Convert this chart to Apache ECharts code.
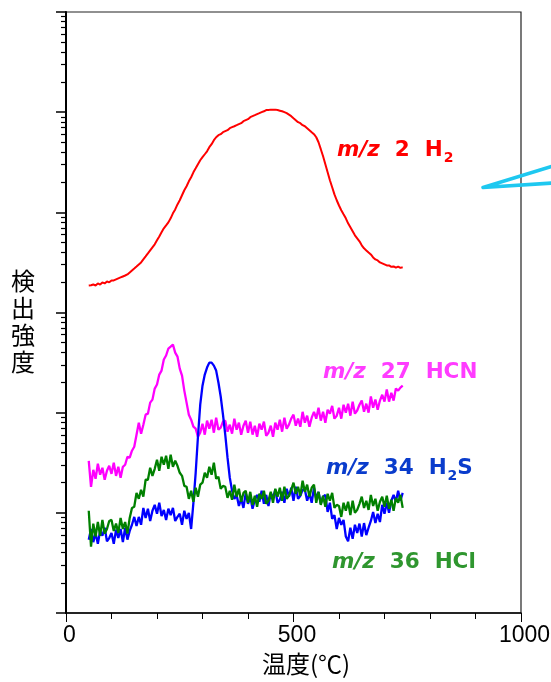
<!DOCTYPE html>
<html>
<head>
<meta charset="utf-8">
<script src="https://cdn.jsdelivr.net/npm/echarts@6/dist/echarts.min.js"></script>
<style>
html,body{margin:0;padding:0;background:#fff;}
#chart{width:551px;height:682px;}
</style>
</head>
<body>
<div id="chart"></div>
<script>
// Temperature (°C)
var temps = [
 50,55,60,65,70,75,80,85,90,95,
 100,105,110,115,120,125,130,135,140,145,
 150,155,160,165,170,175,180,185,190,195,
 200,205,210,215,220,225,230,235,240,245,
 250,255,260,265,270,275,280,285,290,295,
 300,305,310,315,320,325,330,335,340,345,
 350,355,360,365,370,375,380,385,390,395,
 400,405,410,415,420,425,430,435,440,445,
 450,455,460,465,470,475,480,485,490,495,
 500,505,510,515,520,525,530,535,540,545,
 550,555,560,565,570,575,580,585,590,595,
 600,605,610,615,620,625,630,635,640,645,
 650,655,660,665,670,675,680,685,690,695,
 700,705,710,715,720,725,730,735,740
];
// m/z 2 H2
var h2 = [
 1860,1870,1905,1860,1950,1900,1995,1950,2040,2000,
 2090,2090,2140,2190,2240,2290,2340,2400,2510,2630,
 2750,2880,3020,3160,3390,3630,3890,4170,4470,4790,
 5250,5750,6310,6920,7410,7940,8710,9770,10700,12000,
 13200,14800,16600,18200,20400,22400,25100,27500,30200,33100,
 35500,38000,40700,44700,47900,52500,56200,58900,60300,63100,
 64600,66100,69200,70800,72400,74100,75900,77600,81300,83200,
 85100,89100,91200,93300,95500,97700,100000,102000,105000,105000,
 106000,106000,106000,105000,103500,102000,100000,97700,94400,91200,
 87100,83200,79400,77600,74100,72400,69200,66100,63100,60300,
 56200,50100,42700,36300,30200,25100,20900,17800,15100,13200,
 11700,10500,9550,8710,7760,7080,6460,5890,5500,5130,
 4680,4370,4170,3980,3800,3550,3390,3310,3160,3090,
 3020,2950,2950,2860,2880,2800,2870,2790,2830
];
// m/z 27 HCN
var hcn = [
 33,18.2,26.9,21.9,30.9,24.0,28.2,21.4,26.3,29.5,
 24.5,31.6,23.4,28.8,22.4,28.8,30.2,36.3,35.5,41.7,
 45.7,60.3,79.4,61.7,75.9,95.5,97.7,126,135,174,
 191,240,263,339,372,437,457,479,398,363,
 275,234,166,126,95.5,85.1,72.4,69.2,57.5,63.1,
 77.6,60.3,83.2,69.2,85.1,63.1,89.1,67.6,70.8,81.3,
 83.2,64.6,75.9,61.7,87.1,67.6,79.4,60.3,74.1,83.2,
 63.1,81.3,60.3,74.1,57.5,77.6,67.6,81.3,58.9,63.1,
 74.1,57.5,79.4,67.6,85.1,64.6,89.1,69.2,75.9,87.1,
 95.5,74.1,87.1,72.4,102,79.4,93.3,72.4,89.1,102,
 87.1,112,83.2,102,79.4,107,97.7,117,87.1,93.3,
 112,87.1,120,100,123,93.3,129,97.7,105,120,
 132,102,123,100,145,112,135,107,132,151,
 129,170,129,158,132,174,166,178,186
];
// m/z 34 H2S
var h2s = [
 5.4,6.9,5.1,6.3,4.9,6.6,5.9,7.1,5.2,5.6,
 6.3,4.9,6.8,5.6,6.9,5.1,7.1,5.4,6.6,7.6,
 9.1,7.4,9.1,7.6,11.2,8.9,11.0,8.3,10.5,12.0,
 9.8,12.6,9.3,10.7,8.5,11.0,9.5,11.2,8.3,9.1,
 9.8,7.6,10.5,8.7,10.0,6.9,12.6,25.1,57.5,120,
 186,240,282,316,316,295,263,200,145,95.5,
 60.3,35.5,22.4,16.6,13.8,15.1,11.7,13.8,11.2,15.8,
 12.3,14.5,11.0,13.5,15.1,12.9,16.6,12.3,15.1,11.7,
 15.8,14.1,17.0,12.6,13.5,16.2,12.6,17.4,14.5,17.8,
 13.2,18.2,13.8,14.8,17.0,17.0,13.2,15.5,12.6,17.8,
 13.8,16.2,12.3,14.5,15.1,10.2,12.6,8.7,9.5,6.9,
 8.9,7.6,8.5,5.8,5.2,7.1,5.5,7.6,6.3,7.8,
 5.8,7.9,6.0,7.1,8.3,10.2,7.9,9.8,8.1,12.0,
 9.8,12.6,10.0,13.2,15.1,12.9,16.6,13.2,15.8
];
// m/z 36 HCl
var hcl = [
 10.5,4.6,7.8,5.8,8.1,5.9,8.5,6.2,6.9,8.3,
 8.5,6.6,7.8,6.3,8.9,6.9,8.1,6.2,8.9,11.2,
 11.5,15.8,13.8,17.0,14.5,21.4,21.4,28.2,23.4,27.5,
 33.9,26.3,36.3,30.2,37.2,27.5,38.0,28.8,33.1,29.5,
 25.1,23.4,18.6,18.2,13.8,16.6,12.9,17.8,14.5,19.1,
 20.0,25.1,22.4,28.8,24.0,31.6,21.9,22.9,17.4,18.6,
 18.2,14.1,16.6,13.5,19.1,14.5,17.4,12.9,15.8,16.6,
 12.6,16.2,12.0,14.8,11.5,15.5,13.8,16.6,12.3,13.2,
 16.2,12.6,17.4,14.5,17.8,13.2,18.2,13.8,14.8,17.0,
 20.0,15.5,18.2,14.8,20.9,16.2,19.1,14.5,17.8,19.1,
 12.6,16.2,12.0,14.8,11.5,15.5,13.2,15.8,11.2,12.0,
 11.7,9.1,12.6,10.5,12.9,9.5,13.2,10.0,10.7,12.3,
 14.5,11.2,13.2,10.7,15.1,11.7,13.8,10.5,12.9,14.5,
 11.5,14.8,11.0,13.5,10.5,14.1,12.6,15.1,11.2
];
var xTickLabels = [0, 500, 1000];
var yMajorTicks = [1, 10, 100, 1000, 10000, 100000, 1000000];
var yMinorTicks = [];
[1, 10, 100, 1000, 10000, 100000].forEach(function (d) {
  for (var k = 2; k <= 9; k++) yMinorTicks.push(d * k);
});
var seriesNames = ['m/z 2 H2', 'm/z 27 HCN', 'm/z 34 H2S', 'm/z 36 HCl'];
var seriesColors = ['#ff0000', '#ff00ff', '#0000ff', '#008000'];
var labelColors = ['#ff0000', '#ff3cff', '#0a3ccc', '#2f962f'];
var xTitle = '温度(℃)';
var yTitle = '検\n出\n強\n度';

function pairs(vals) { return temps.map(function (t, i) { return [t, vals[i]]; }); }

var chart = echarts.init(document.getElementById('chart'), null, { renderer: 'canvas' });

var mainFont = '"DejaVu Sans", "Liberation Sans", sans-serif';
var rich = {
  i: { fontFamily: mainFont, fontSize: 21.5, fontWeight: 'bold', fontStyle: 'italic' },
  b: { fontFamily: mainFont, fontSize: 21.5, fontWeight: 'bold' },
  s: { fontFamily: mainFont, fontSize: 14, fontWeight: 'bold', padding: [16, 0, 0, 1] }
};
function label(x, y, text, color) {
  return {
    type: 'text', x: x, y: y, z: 100,
    style: {
      text: text, rich: rich, fill: color,
      fontFamily: mainFont, fontSize: 21.5, fontWeight: 'bold',
      verticalAlign: 'middle', align: 'left'
    }
  };
}

var option = {
  animation: false,
  backgroundColor: '#fff',
  grid: { left: 66, right: 30, top: 12, bottom: 69, show: true, borderColor: '#222', borderWidth: 1.2,
    containLabel: false, outerBoundsMode: 'none' },
  xAxis: {
    type: 'value', min: 0, max: 1000, interval: 500,
    axisLine: { onZero: false, lineStyle: { color: '#000', width: 1.5 } },
    axisTick: { show: true, length: 9, lineStyle: { color: '#000', width: 1 } },
    minorTick: { show: true, splitNumber: 5, length: 6, lineStyle: { color: '#000', width: 1 } },
    splitLine: { show: false }, minorSplitLine: { show: false },
    axisLabel: { fontSize: 23, color: '#000', margin: 11, padding: [0, 0, 0, 7], fontFamily: '"Liberation Sans", Arial, sans-serif',
      formatter: function (v) { return xTickLabels.indexOf(v) >= 0 ? String(v) : ''; } },
    name: xTitle, nameLocation: 'middle', nameGap: 33,
    nameTextStyle: { fontSize: 24, color: '#000', fontFamily: '"Noto Sans CJK JP", sans-serif', padding: [0, 0, 0, 25] }
  },
  yAxis: [
    {
      type: 'log', logBase: 10, min: 1, max: 1000000,
      axisLine: { show: true, lineStyle: { color: '#000', width: 2 } },
      axisTick: { show: true, length: 10, customValues: yMajorTicks, lineStyle: { color: '#000', width: 1.5 } },
      axisLabel: { show: false },
      splitLine: { show: false }
    },
    {
      type: 'log', logBase: 10, min: 1, max: 1000000, position: 'left',
      axisLine: { show: false },
      axisTick: { show: true, length: 5, customValues: yMinorTicks, lineStyle: { color: '#000', width: 1.2 } },
      axisLabel: { show: false },
      splitLine: { show: false }
    }
  ],
  series: [h2, hcn, h2s, hcl].map(function (vals, k) {
    return {
      name: seriesNames[k], type: 'line', yAxisIndex: 0,
      data: pairs(vals), showSymbol: false, symbol: 'none',
      lineStyle: { color: seriesColors[k], width: k === 0 ? 2 : 2.3 },
      z: 2 + k
    };
  }),
  graphic: [
    {
      type: 'text', x: 23, y: 321, z: 100,
      style: { text: yTitle, fill: '#000', fontSize: 24, lineHeight: 27,
        fontFamily: '"Noto Sans CJK JP", sans-serif', align: 'center', verticalAlign: 'middle' }
    },
    label(337, 150, '{i|m/z}  {b|2}  {b|H}{s|2}', labelColors[0]),
    label(323, 372, '{i|m/z}  {b|27}  {b|HCN}', labelColors[1]),
    label(326, 468, '{i|m/z}  {b|34}  {b|H}{s|2}{b|S}', labelColors[2]),
    label(332, 562, '{i|m/z}  {b|36}  {b|HCl}', labelColors[3]),
    {
      type: 'polyline', z: 100,
      shape: { points: [[553, 166], [483, 187.5], [553, 183]] },
      style: { stroke: '#1ec8f0', lineWidth: 3.5, fill: null, lineJoin: 'round', lineCap: 'round' }
    }
  ]
};
chart.setOption(option);
</script>
</body>
</html>
